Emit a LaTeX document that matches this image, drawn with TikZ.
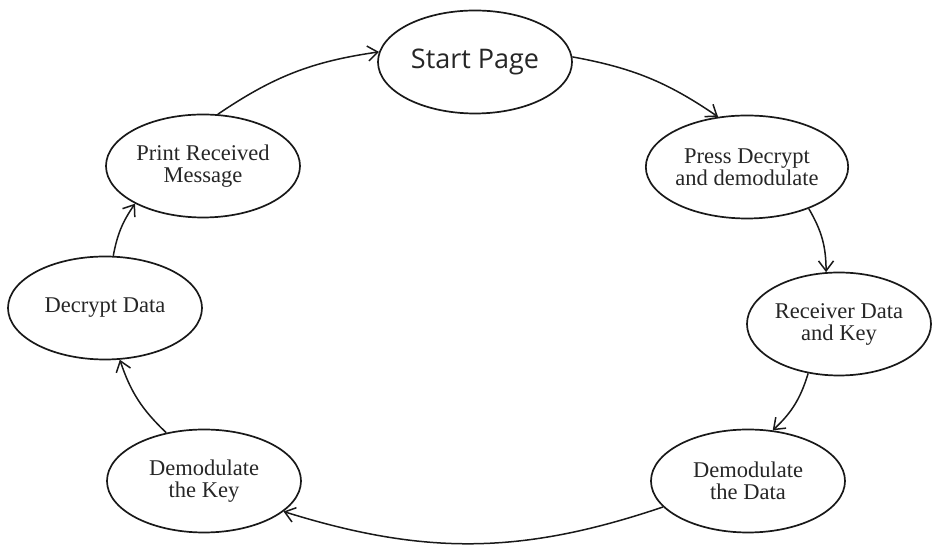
\documentclass[tikz,border=0pt]{standalone}
\usepackage{fontspec}
\setmainfont{Liberation Serif}
\newfontfamily\startfont{Open Sans}
\usetikzlibrary{shapes.geometric,arrows.meta}
\begin{document}
\begin{tikzpicture}[x=1pt,y=1pt,
  state/.style={ellipse,draw=black!90,line width=1.7pt,minimum width=194pt,minimum height=103pt,inner sep=0pt,align=center,font=\fontsize{22.5}{22}\selectfont,text=black!85},
  flow/.style={line width=1.5pt,draw=black!90,-{Straight Barb[length=10pt,width=15pt,line width=1.5pt]}}
]
\useasboundingbox (0,0) rectangle (932,545);
\node[state] (sp) at (475,483) {\startfont\fontsize{27}{30}\selectfont Start Page};
\node[state] (pd) at (747,378) {Press Decrypt\\and demodulate};
\node[state,minimum width=184pt] (rk) at (839,221) {Receiver Data\\and Key};
\node[state] (dd) at (748,64) {Demodulate\\the Data};
\node[state] (dk) at (204,64) {Demodulate\\the Key};
\node[state] (dc) at (105,237) {Decrypt Data};
\node[state] (pr) at (203,379) {Print Received\\Message};
\draw[flow] (sp.3) to[bend left=12] (pd.120);
\draw[flow] (pd.-34) to[bend left=15] (rk.104);
\draw[flow] (rk.-122) to[bend left=15] (dd.64);
\draw[flow] (dd.-163) to[bend left=18] (dk.-21);
\draw[flow] (dk.128) to[bend left=14] (dc.-74);
\draw[flow] (dc.81) to[bend left=12] (pr.-151);
\draw[flow] (pr.74) to[bend left=13] (sp.174);
\end{tikzpicture}
\end{document}
